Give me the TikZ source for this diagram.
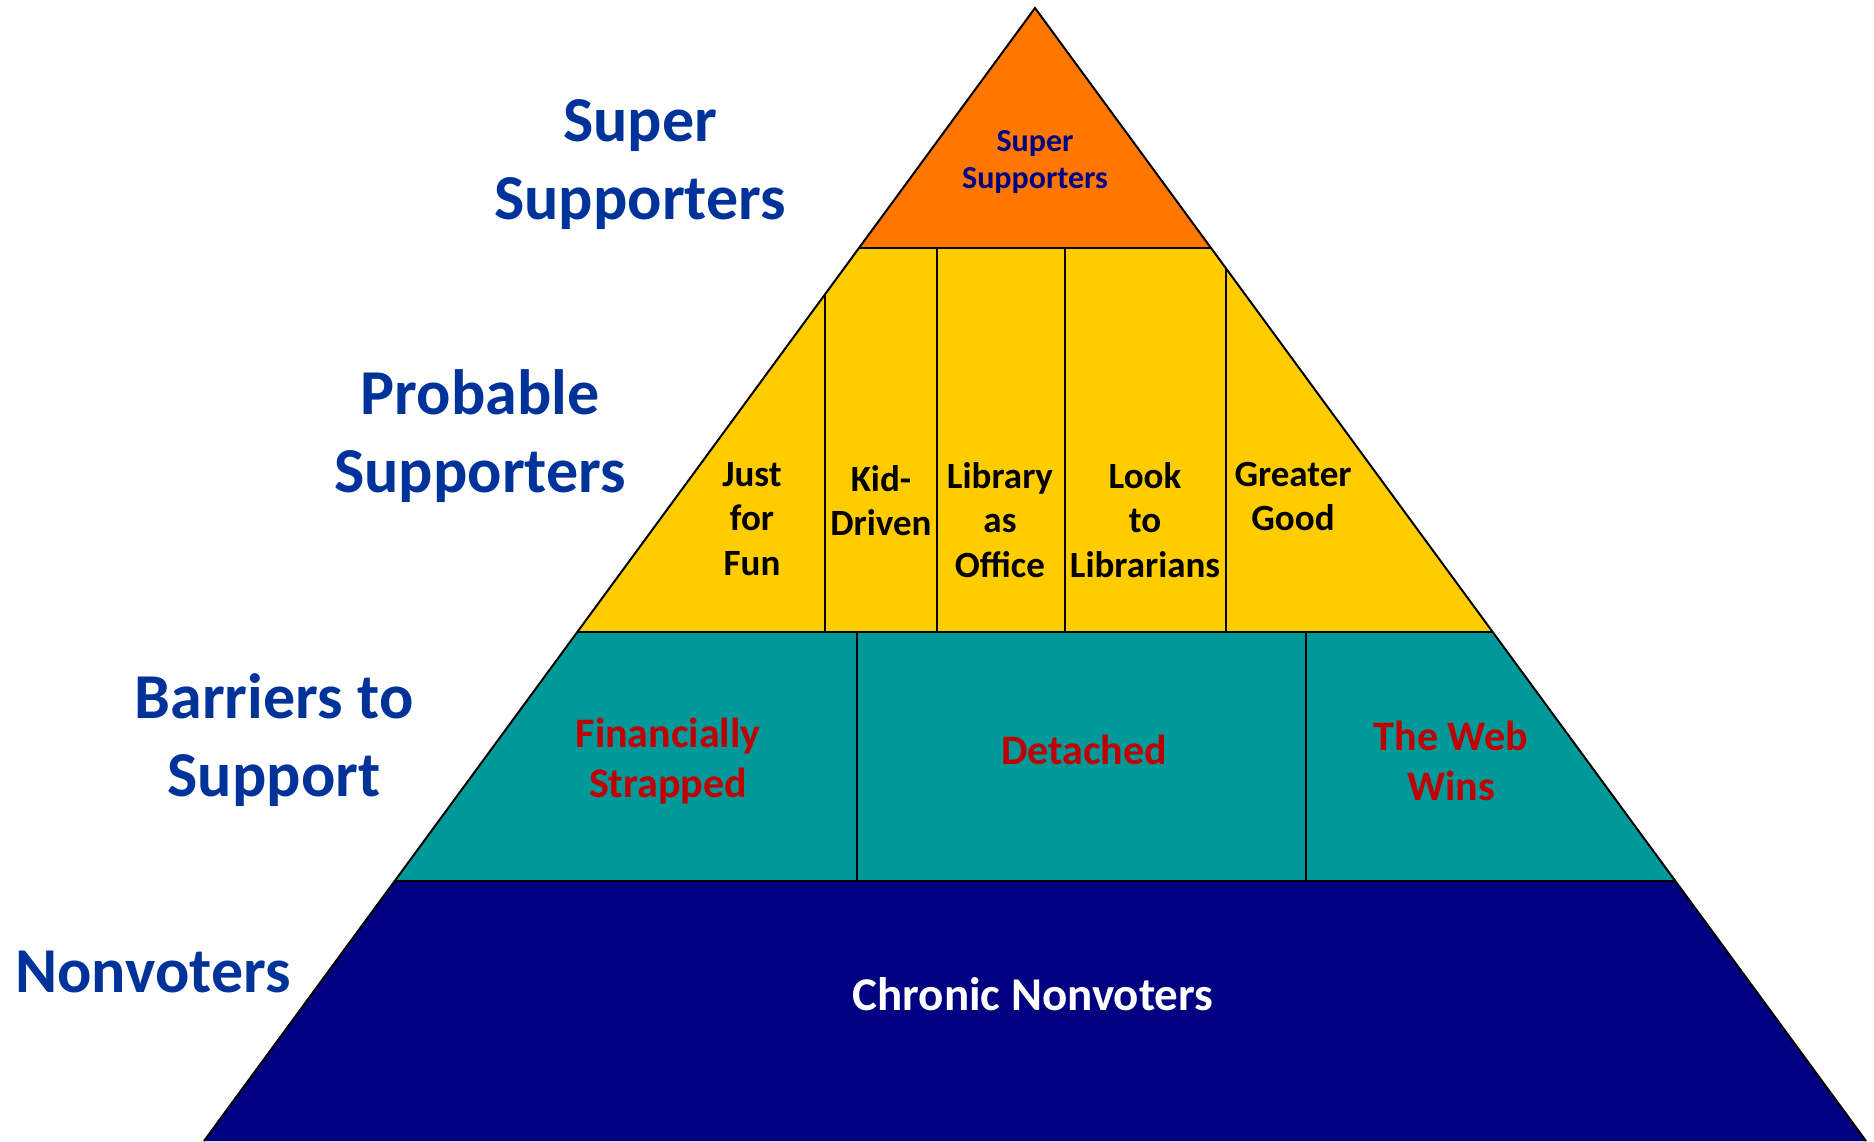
\documentclass[tikz,border=0pt]{standalone}
\usepackage{fontspec}
\setmainfont{Carlito}
\definecolor{lblblue}{RGB}{0,51,153}
\definecolor{topor}{RGB}{255,119,0}
\definecolor{yel}{RGB}{255,204,0}
\definecolor{teal2}{RGB}{0,153,153}
\definecolor{navy2}{RGB}{0,0,128}
\definecolor{red2}{RGB}{192,0,0}
\tikzset{
  side/.style={font=\bfseries\fontsize{64}{78}\selectfont, text=lblblue, align=center, inner sep=0pt},
  yeltxt/.style={font=\bfseries\fontsize{37}{44.5}\selectfont, text=black, align=center, inner sep=0pt, anchor=north},
  tealtxt/.style={font=\bfseries\fontsize{42}{50}\selectfont, text=red2, align=center, inner sep=0pt},
  edge/.style={draw=black, line width=2pt, line join=miter},
  divider/.style={draw=black, line width=1.5pt},
  band/.style={draw=black, line width=2.5pt}
}
\begin{document}
\begin{tikzpicture}[x=1pt,y=-1pt]
\useasboundingbox (0,0) rectangle (1874,1141);
% corners
\coordinate (apex) at (1035,8);
\coordinate (oL) at (859,248);
\coordinate (oR) at (1211,248);
\coordinate (yL) at (578,632);
\coordinate (yR) at (1492,632);
\coordinate (tL) at (395,881);
\coordinate (tR) at (1675,881);
\coordinate (bL) at (204,1141);
\coordinate (bR) at (1866,1141);
% fills
\fill[topor] (apex) -- (oL) -- (oR) -- cycle;
\fill[yel] (oL) -- (yL) -- (yR) -- (oR) -- cycle;
\fill[teal2] (yL) -- (tL) -- (tR) -- (yR) -- cycle;
\fill[navy2] (tL) -- (bL) -- (bR) -- (tR) -- cycle;
% dividers in yellow band
\coordinate (d1t) at (825,294); \coordinate (d1b) at (825,632);
\coordinate (d2t) at (937,248); \coordinate (d2b) at (937,632);
\coordinate (d3t) at (1065,248); \coordinate (d3b) at (1065,632);
\coordinate (d4t) at (1226,268); \coordinate (d4b) at (1226,632);
\draw[divider] (d1t) -- (d1b);
\draw[divider] (d2t) -- (d2b);
\draw[divider] (d3t) -- (d3b);
\draw[divider] (d4t) -- (d4b);
% dividers in teal band
\coordinate (e1t) at (857,632); \coordinate (e1b) at (857,881);
\coordinate (e2t) at (1306,632); \coordinate (e2b) at (1306,881);
\draw[divider] (e1t) -- (e1b);
\draw[divider] (e2t) -- (e2b);
% band boundaries
\draw[band] (oL) -- (oR);
\draw[band] (yL) -- (yR);
\draw[band] (tL) -- (tR);
% outline
\draw[edge] (bL) -- (apex) -- (bR);
% side labels
\node[side] (lsuper) at (640,165) {Super\\Supporters};
\node[side] (lprob) at (480,436) {Probable\\Supporters};
\node[side] (lbarr) at (274,740) {Barriers to\\Support};
\node[side] (lnon) at (153,972) {Nonvoters};
% orange text
\node[font=\bfseries\fontsize{32}{37}\selectfont, text=navy2, align=center, inner sep=0pt] (tsuper) at (1035,162) {Super\\Supporters};
% yellow texts
\node[yeltxt] (jff) at (752,462) {Just\\for\\Fun};
\node[yeltxt] (kid) at (881,465) {Kid-\\Driven};
\node[yeltxt] (lao) at (1000,462) {Library\\as\\Office};
\node[yeltxt] (ltl) at (1145,462) {Look\\to\\Librarians};
\node[yeltxt] (gg) at (1293,462) {Greater\\Good};
% teal texts
\node[tealtxt] (fin) at (668,761) {Financially\\Strapped};
\node[tealtxt] (det) at (1084,750) {Detached};
\node[tealtxt] (web) at (1451,761) {The Web\\Wins};
% navy text
\node[font=\bfseries\fontsize{47}{52}\selectfont, text=white, inner sep=0pt] (chron) at (1033,994) {Chronic Nonvoters};
\end{tikzpicture}
\end{document}
